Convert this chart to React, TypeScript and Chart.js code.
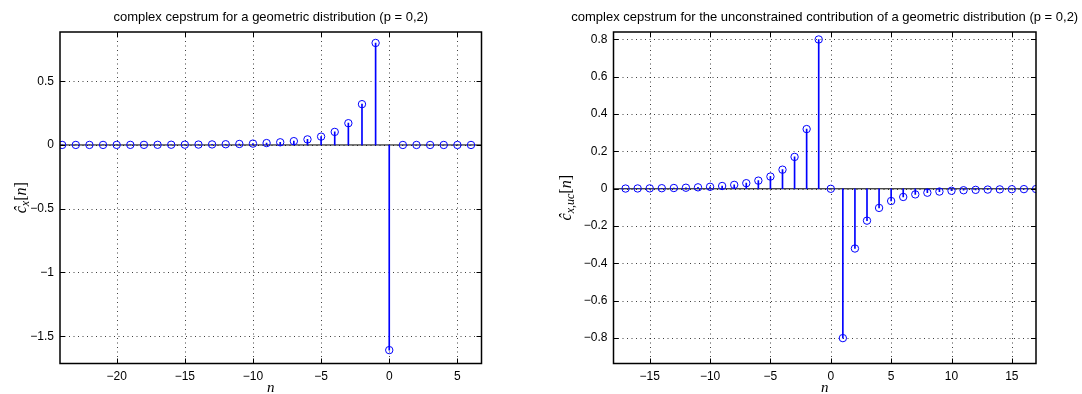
import React, { useEffect, useRef } from 'react';
import { Chart, registerables } from 'chart.js';
Chart.register(...registerables);

// ---- Left plot data ----
const leftTitle = 'complex cepstrum for a geometric distribution (p = 0,2)';
const leftN = [-24, -23, -22, -21, -20, -19, -18, -17, -16, -15, -14, -13, -12, -11, -10, -9, -8, -7, -6, -5, -4, -3, -2, -1, 0, 1, 2, 3, 4, 5, 6];
const leftC = [0.0002, 0.0003, 0.0003, 0.0004, 0.0006, 0.0008, 0.001, 0.0013, 0.0018, 0.0023, 0.0031, 0.0042, 0.0057, 0.0078, 0.0107, 0.0149, 0.021, 0.03, 0.0437, 0.0655, 0.1024, 0.1707, 0.32, 0.8, -1.609, 0, 0, 0, 0, 0, 0];
const leftXTicks = [-20, -15, -10, -5, 0, 5];
const leftYTicks = [-1.5, -1, -0.5, 0, 0.5];
const leftXRange = [-24.16, 6.77];
const leftYRange = [-1.714, 0.886];
const leftYSub = 'x';

// ---- Right plot data ----
const rightTitle = 'complex cepstrum for the unconstrained contribution of a geometric distribution (p = 0,2)';
const rightN = [-17, -16, -15, -14, -13, -12, -11, -10, -9, -8, -7, -6, -5, -4, -3, -2, -1, 0, 1, 2, 3, 4, 5, 6, 7, 8, 9, 10, 11, 12, 13, 14, 15, 16, 17];
const rightC = [0.0013, 0.0018, 0.0023, 0.0031, 0.0042, 0.0057, 0.0078, 0.0107, 0.0149, 0.021, 0.03, 0.0437, 0.0655, 0.1024, 0.1707, 0.32, 0.8, 0, -0.8, -0.32, -0.1707, -0.1024, -0.0655, -0.0437, -0.03, -0.021, -0.0149, -0.0107, -0.0078, -0.0057, -0.0042, -0.0031, -0.0023, -0.0018, -0.0013];
const rightXTicks = [-15, -10, -5, 0, 5, 10, 15];
const rightYTicks = [-0.8, -0.6, -0.4, -0.2, 0, 0.2, 0.4, 0.6, 0.8];
const rightXRange = [-18, 17];
const rightYRange = [-0.936, 0.84];
const rightYSub = 'x,uc';

const W = 541;
const H = 394;
const BLUE = '#0000ff';
const SANS = '"Liberation Sans", Arial, Helvetica, sans-serif';
const SERIF = '"Liberation Serif", "Times New Roman", serif';

type Area = { left: number; right: number; top: number; bottom: number; ylabelX: number };

const fmt = (v: number) => {
  const s = String(Math.round(v * 1000) / 1000);
  return s.replace('-', '\u2212');
};

function makeChart(
  canvas: HTMLCanvasElement,
  n: number[],
  c: number[],
  xTicks: number[],
  yTicks: number[],
  xRange: number[],
  yRange: number[],
  title: string,
  ySub: string,
  area: Area
) {
  const decor = {
    id: 'matlabDecor',
    beforeDatasetsDraw(chart: any) {
      const { ctx, chartArea: a, scales } = chart;
      const xs = scales.x;
      const ys = scales.y;
      ctx.save();
      // dotted grid
      ctx.strokeStyle = 'rgba(0,0,0,0.75)';
      ctx.lineWidth = 1;
      ctx.setLineDash([1, 3.5]);
      xTicks.forEach((t) => {
        const px = Math.round(xs.getPixelForValue(t)) + 0.5;
        ctx.beginPath();
        ctx.moveTo(px, a.top);
        ctx.lineTo(px, a.bottom);
        ctx.stroke();
      });
      yTicks.forEach((t) => {
        const py = Math.round(ys.getPixelForValue(t)) + 0.5;
        ctx.beginPath();
        ctx.moveTo(a.left, py);
        ctx.lineTo(a.right, py);
        ctx.stroke();
      });
      ctx.setLineDash([]);
      // stem baseline
      const y0 = ys.getPixelForValue(0);
      ctx.strokeStyle = '#000';
      ctx.lineWidth = 1;
      ctx.beginPath();
      ctx.moveTo(a.left, y0);
      ctx.lineTo(a.right, y0);
      ctx.stroke();
      ctx.restore();
    },
    afterDraw(chart: any) {
      const { ctx, chartArea: a, scales } = chart;
      const xs = scales.x;
      const ys = scales.y;
      ctx.save();
      // box
      ctx.strokeStyle = '#000';
      ctx.lineWidth = 1.5;
      ctx.strokeRect(a.left, a.top, a.right - a.left, a.bottom - a.top);
      // inner ticks
      ctx.lineWidth = 1;
      const tl = 5;
      xTicks.forEach((t) => {
        const px = Math.round(xs.getPixelForValue(t)) + 0.5;
        ctx.beginPath();
        ctx.moveTo(px, a.bottom);
        ctx.lineTo(px, a.bottom - tl);
        ctx.moveTo(px, a.top);
        ctx.lineTo(px, a.top + tl);
        ctx.stroke();
      });
      yTicks.forEach((t) => {
        const py = Math.round(ys.getPixelForValue(t)) + 0.5;
        ctx.beginPath();
        ctx.moveTo(a.left, py);
        ctx.lineTo(a.left + tl, py);
        ctx.moveTo(a.right, py);
        ctx.lineTo(a.right - tl, py);
        ctx.stroke();
      });
      // title
      ctx.fillStyle = '#000';
      ctx.font = `13px ${SANS}`;
      ctx.textAlign = 'center';
      ctx.textBaseline = 'middle';
      ctx.fillText(title, (a.left + a.right) / 2, 17);
      // x label
      ctx.font = `italic 15px ${SERIF}`;
      ctx.fillText('n', (a.left + a.right) / 2, 388);
      // y label (rotated)
      const parts = [
        { t: '\u0109', f: `italic 16px ${SERIF}`, dy: 0 },
        { t: ySub, f: `italic 12px ${SERIF}`, dy: 3.5 },
        { t: '[', f: `16px ${SERIF}`, dy: 0 },
        { t: 'n', f: `italic 16px ${SERIF}`, dy: 0 },
        { t: ']', f: `16px ${SERIF}`, dy: 0 },
      ];
      let total = 0;
      const widths = parts.map((p) => {
        ctx.font = p.f;
        const w = ctx.measureText(p.t).width;
        total += w;
        return w;
      });
      ctx.translate(area.ylabelX, (a.top + a.bottom) / 2);
      ctx.rotate(-Math.PI / 2);
      ctx.textAlign = 'left';
      ctx.textBaseline = 'middle';
      let x = -total / 2;
      parts.forEach((p, i) => {
        ctx.font = p.f;
        ctx.fillText(p.t, x, p.dy);
        x += widths[i];
      });
      ctx.restore();
    },
  };

  return new Chart(canvas, {
    type: 'bar',
    data: {
      datasets: [
        {
          type: 'line',
          data: n.map((x, i) => ({ x, y: c[i] })),
          showLine: false,
          pointStyle: 'circle',
          pointRadius: 3.7,
          pointBorderWidth: 1,
          pointBorderColor: BLUE,
          pointBackgroundColor: 'rgba(0,0,0,0)',
          order: 0,
        } as any,
        {
          type: 'bar',
          data: n.map((x, i) => ({ x, y: c[i] })),
          backgroundColor: BLUE,
          borderWidth: 0,
          barThickness: 1,
          order: 1,
        } as any,
      ],
    },
    options: {
      responsive: false,
      animation: false,
      events: [],
      layout: {
        padding: { left: 0, top: area.top, right: W - area.right, bottom: 0 },
      },
      plugins: {
        legend: { display: false },
        title: { display: false },
        tooltip: { enabled: false },
      },
      scales: {
        x: {
          type: 'linear',
          min: xRange[0],
          max: xRange[1],
          offset: false,
          grid: { display: false, drawTicks: false },
          border: { display: false },
          afterBuildTicks: (s: any) => {
            s.ticks = xTicks.map((v) => ({ value: v }));
          },
          afterFit: (s: any) => {
            s.height = H - area.bottom;
          },
          ticks: {
            color: '#000',
            font: { family: SANS, size: 12 },
            padding: 6,
            maxRotation: 0,
            autoSkip: false,
            callback: (v: any) => fmt(Number(v)),
          },
        },
        y: {
          type: 'linear',
          min: yRange[0],
          max: yRange[1],
          grid: { display: false, drawTicks: false },
          border: { display: false },
          afterBuildTicks: (s: any) => {
            s.ticks = yTicks.map((v) => ({ value: v }));
          },
          afterFit: (s: any) => {
            s.width = area.left;
          },
          ticks: {
            color: '#000',
            font: { family: SANS, size: 12 },
            padding: 6,
            autoSkip: false,
            callback: (v: any) => fmt(Number(v)),
          },
        },
      },
    },
    plugins: [decor],
  } as any);
}

function Panel(props: {
  n: number[];
  c: number[];
  xTicks: number[];
  yTicks: number[];
  xRange: number[];
  yRange: number[];
  title: string;
  ySub: string;
  area: Area;
  left: number;
}) {
  const ref = useRef<HTMLCanvasElement>(null);
  useEffect(() => {
    if (!ref.current) return;
    const ch = makeChart(
      ref.current,
      props.n,
      props.c,
      props.xTicks,
      props.yTicks,
      props.xRange,
      props.yRange,
      props.title,
      props.ySub,
      props.area
    );
    return () => ch.destroy();
  }, []);
  return (
    <canvas
      ref={ref}
      width={W}
      height={H}
      style={{ position: 'absolute', left: props.left, top: 0, width: W, height: H }}
    />
  );
}

export default function App() {
  return (
    <div style={{ position: 'fixed', left: 0, top: 0, width: 1082, height: 394, background: '#fff', overflow: 'hidden' }}>
      <Panel
        n={leftN}
        c={leftC}
        xTicks={leftXTicks}
        yTicks={leftYTicks}
        xRange={leftXRange}
        yRange={leftYRange}
        title={leftTitle}
        ySub={leftYSub}
        area={{ left: 60, right: 481.5, top: 32, bottom: 363.5, ylabelX: 22 }}
        left={0}
      />
      <Panel
        n={rightN}
        c={rightC}
        xTicks={rightXTicks}
        yTicks={rightYTicks}
        xRange={rightXRange}
        yRange={rightYRange}
        title={rightTitle}
        ySub={rightYSub}
        area={{ left: 72.5, right: 495, top: 32, bottom: 363.5, ylabelX: 26 }}
        left={541}
      />
    </div>
  );
}
